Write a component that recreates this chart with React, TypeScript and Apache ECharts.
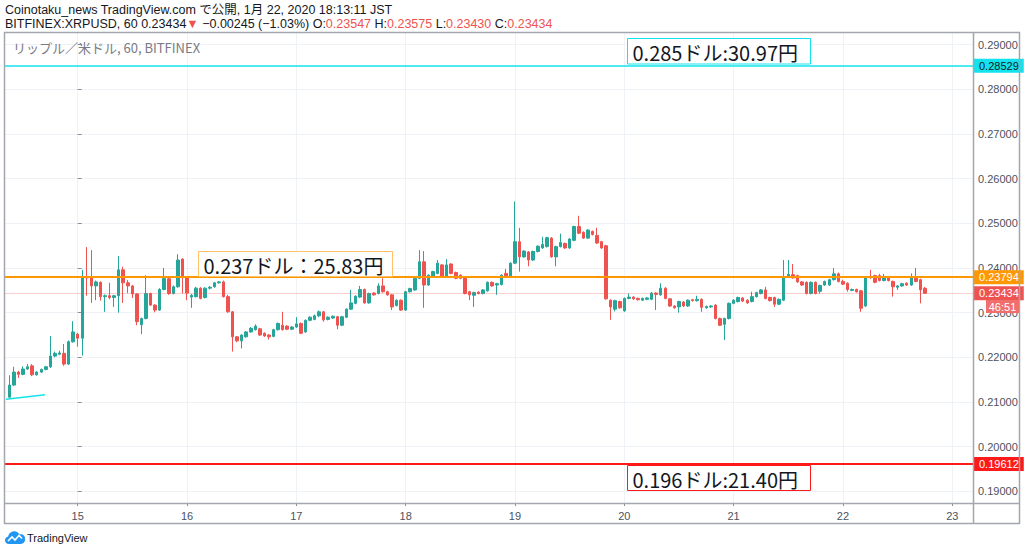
import React, { useEffect, useRef } from "react";
import * as echarts from "echarts";

// Hourly candles, hour offsets relative to Jan 15 00:00 JST (first candle: Jan 14 09:00)
const START_HOUR = -15;

const OPEN = [
  0.2111, 0.2138, 0.2167, 0.2162, 0.2174, 0.2181, 0.2161, 0.2167, 0.2173, 0.2179, 0.2203, 0.2207, 0.2209, 0.2185, 0.2235,
  0.2252, 0.2243, 0.2380, 0.2379, 0.2360, 0.2368, 0.2336, 0.2338, 0.2334, 0.2338, 0.2396, 0.2367, 0.2360, 0.2342, 0.2273,
  0.2287, 0.2343, 0.2317, 0.2306, 0.2352, 0.2376, 0.2343, 0.2358, 0.2420, 0.2378, 0.2335, 0.2336, 0.2355, 0.2334, 0.2355,
  0.2358, 0.2367, 0.2369, 0.2336, 0.2302, 0.2246, 0.2237, 0.2246, 0.2257, 0.2262, 0.2264, 0.2254, 0.2250, 0.2247, 0.2262,
  0.2272, 0.2270, 0.2263, 0.2268, 0.2276, 0.2257, 0.2283, 0.2285, 0.2293, 0.2302, 0.2285, 0.2288, 0.2291, 0.2272, 0.2290,
  0.2308, 0.2321, 0.2335, 0.2352, 0.2322, 0.2344, 0.2343, 0.2360, 0.2347, 0.2340, 0.2316, 0.2328, 0.2306, 0.2347, 0.2351,
  0.2377, 0.2414, 0.2362, 0.2380, 0.2388, 0.2407, 0.2382, 0.2409, 0.2390, 0.2384, 0.2380, 0.2347, 0.2339, 0.2346, 0.2343,
  0.2349, 0.2368, 0.2362, 0.2363, 0.2388, 0.2381, 0.2411, 0.2459, 0.2425, 0.2436, 0.2418, 0.2437, 0.2445, 0.2448, 0.2467,
  0.2425, 0.2448, 0.2455, 0.2445, 0.2462, 0.2493, 0.2480, 0.2467, 0.2482, 0.2473, 0.2459, 0.2450, 0.2328, 0.2308, 0.2325,
  0.2304, 0.2332, 0.2335, 0.2332, 0.2328, 0.2330, 0.2330, 0.2344, 0.2340, 0.2355, 0.2331, 0.2315, 0.2313, 0.2324, 0.2315,
  0.2329, 0.2327, 0.2330, 0.2311, 0.2313, 0.2317, 0.2287, 0.2274, 0.2287, 0.2321, 0.2325, 0.2333, 0.2328, 0.2325, 0.2336,
  0.2343, 0.2351, 0.2334, 0.2334, 0.2319, 0.2328, 0.2380, 0.2385, 0.2383, 0.2369, 0.2368, 0.2343, 0.2368, 0.2348, 0.2362,
  0.2362, 0.2374, 0.2387, 0.2370, 0.2366, 0.2350, 0.2352, 0.2349, 0.2315, 0.2381, 0.2383, 0.2383, 0.2372, 0.2378, 0.2370,
  0.2357, 0.2360, 0.2366, 0.2362, 0.2380, 0.2374, 0.23547,
];

const CLOSE = [
  0.2138, 0.2167, 0.2162, 0.2174, 0.2179, 0.2161, 0.2167, 0.2173, 0.2179, 0.2203, 0.2209, 0.2210, 0.2185, 0.2235, 0.2257,
  0.2243, 0.2380, 0.2378, 0.2360, 0.2369, 0.2336, 0.2338, 0.2334, 0.2338, 0.2396, 0.2367, 0.2360, 0.2342, 0.2280, 0.2287,
  0.2343, 0.2317, 0.2306, 0.2352, 0.2377, 0.2343, 0.2358, 0.2418, 0.2380, 0.2344, 0.2339, 0.2355, 0.2332, 0.2355, 0.2357,
  0.2367, 0.2369, 0.2336, 0.2302, 0.2246, 0.2237, 0.2250, 0.2257, 0.2265, 0.2270, 0.2250, 0.2248, 0.2246, 0.2262, 0.2276,
  0.2262, 0.2263, 0.2268, 0.2275, 0.2254, 0.2283, 0.2290, 0.2293, 0.2302, 0.2284, 0.2290, 0.2292, 0.2272, 0.2291, 0.2308,
  0.2322, 0.2337, 0.2352, 0.2322, 0.2343, 0.2340, 0.2360, 0.2347, 0.2340, 0.2313, 0.2328, 0.2306, 0.2347, 0.2354, 0.2377,
  0.2414, 0.2362, 0.2384, 0.2392, 0.2411, 0.2381, 0.2407, 0.2388, 0.2377, 0.2377, 0.2343, 0.2340, 0.2345, 0.2343, 0.2351,
  0.2368, 0.2360, 0.2365, 0.2384, 0.2381, 0.2411, 0.2459, 0.2425, 0.2438, 0.2418, 0.2437, 0.2449, 0.2453, 0.2468, 0.2425,
  0.2448, 0.2457, 0.2445, 0.2465, 0.2493, 0.2478, 0.2467, 0.2485, 0.2475, 0.2456, 0.2445, 0.2331, 0.2313, 0.2327, 0.2311,
  0.2332, 0.2335, 0.2331, 0.2329, 0.2332, 0.2333, 0.2344, 0.2341, 0.2355, 0.2332, 0.2315, 0.2311, 0.2325, 0.2315, 0.2328,
  0.2327, 0.2330, 0.2312, 0.2314, 0.2315, 0.2287, 0.2272, 0.2287, 0.2321, 0.2328, 0.2334, 0.2326, 0.2322, 0.2336, 0.2345,
  0.2351, 0.2332, 0.2327, 0.2319, 0.2330, 0.2380, 0.2386, 0.2378, 0.2369, 0.2362, 0.2343, 0.2368, 0.2343, 0.2361, 0.2370,
  0.2374, 0.2387, 0.2370, 0.2364, 0.2352, 0.2352, 0.2347, 0.2310, 0.2379, 0.2378, 0.2368, 0.2372, 0.2380, 0.2372, 0.2358,
  0.2360, 0.2365, 0.2362, 0.2380, 0.2370, 0.2351, 0.23434,
];

const HIGH = [
  0.2160, 0.2179, 0.2170, 0.2180, 0.2185, 0.2185, 0.2169, 0.2175, 0.2181, 0.2248, 0.2213, 0.2215, 0.2230, 0.2238, 0.2281,
  0.2255, 0.2396, 0.2447, 0.2440, 0.2372, 0.2370, 0.2341, 0.2367, 0.2340, 0.2427, 0.2403, 0.2373, 0.2362, 0.2344, 0.2289,
  0.2384, 0.2345, 0.2319, 0.2355, 0.2400, 0.2379, 0.2361, 0.2431, 0.2422, 0.2380, 0.2342, 0.2358, 0.2357, 0.2357, 0.2360,
  0.2369, 0.2371, 0.2372, 0.2340, 0.2304, 0.2248, 0.2252, 0.2259, 0.2268, 0.2274, 0.2266, 0.2256, 0.2252, 0.2264, 0.2278,
  0.2302, 0.2272, 0.2270, 0.2290, 0.2278, 0.2285, 0.2292, 0.2296, 0.2305, 0.2304, 0.2292, 0.2294, 0.2293, 0.2293, 0.2310,
  0.2351, 0.2339, 0.2360, 0.2354, 0.2345, 0.2346, 0.2366, 0.2377, 0.2349, 0.2342, 0.2330, 0.2330, 0.2349, 0.2356, 0.2379,
  0.2440, 0.2438, 0.2386, 0.2394, 0.2418, 0.2409, 0.2420, 0.2411, 0.2392, 0.2386, 0.2382, 0.2349, 0.2347, 0.2348, 0.2353,
  0.2370, 0.2370, 0.2367, 0.2386, 0.2398, 0.2413, 0.2549, 0.2490, 0.2440, 0.2438, 0.2439, 0.2451, 0.2470, 0.2470, 0.2469,
  0.2450, 0.2477, 0.2457, 0.2467, 0.2495, 0.2517, 0.2482, 0.2487, 0.2484, 0.2490, 0.2461, 0.2452, 0.2330, 0.2329, 0.2327,
  0.2334, 0.2343, 0.2337, 0.2334, 0.2334, 0.2335, 0.2346, 0.2346, 0.2366, 0.2357, 0.2333, 0.2317, 0.2327, 0.2326, 0.2330,
  0.2331, 0.2338, 0.2332, 0.2316, 0.2317, 0.2319, 0.2289, 0.2289, 0.2323, 0.2330, 0.2336, 0.2335, 0.2330, 0.2347, 0.2347,
  0.2353, 0.2358, 0.2336, 0.2336, 0.2332, 0.2418, 0.2418, 0.2409, 0.2385, 0.2371, 0.2370, 0.2370, 0.2370, 0.2363, 0.2372,
  0.2376, 0.2400, 0.2390, 0.2374, 0.2368, 0.2354, 0.2354, 0.2351, 0.2381, 0.2396, 0.2385, 0.2387, 0.2387, 0.2380, 0.2372,
  0.2362, 0.2367, 0.2368, 0.2388, 0.2400, 0.2376, 0.23575,
];

const LOW = [
  0.2109, 0.2136, 0.2154, 0.2160, 0.2172, 0.2158, 0.2159, 0.2165, 0.2171, 0.2176, 0.2200, 0.2205, 0.2181, 0.2183, 0.2233,
  0.2224, 0.2204, 0.2338, 0.2322, 0.2328, 0.2327, 0.2302, 0.2330, 0.2313, 0.2300, 0.2322, 0.2344, 0.2333, 0.2272, 0.2252,
  0.2285, 0.2315, 0.2301, 0.2304, 0.2350, 0.2340, 0.2341, 0.2356, 0.2343, 0.2328, 0.2311, 0.2334, 0.2330, 0.2332, 0.2352,
  0.2356, 0.2365, 0.2334, 0.2300, 0.2213, 0.2234, 0.2220, 0.2244, 0.2255, 0.2260, 0.2248, 0.2246, 0.2240, 0.2245, 0.2260,
  0.2260, 0.2261, 0.2261, 0.2266, 0.2252, 0.2255, 0.2281, 0.2283, 0.2290, 0.2280, 0.2283, 0.2286, 0.2263, 0.2270, 0.2288,
  0.2306, 0.2319, 0.2333, 0.2320, 0.2320, 0.2338, 0.2341, 0.2345, 0.2338, 0.2306, 0.2314, 0.2304, 0.2304, 0.2345, 0.2349,
  0.2375, 0.2311, 0.2360, 0.2378, 0.2386, 0.2379, 0.2380, 0.2386, 0.2375, 0.2375, 0.2341, 0.2328, 0.2313, 0.2341, 0.2341,
  0.2347, 0.2358, 0.2340, 0.2361, 0.2379, 0.2379, 0.2409, 0.2392, 0.2423, 0.2404, 0.2416, 0.2435, 0.2443, 0.2446, 0.2423,
  0.2404, 0.2446, 0.2443, 0.2443, 0.2460, 0.2476, 0.2465, 0.2465, 0.2473, 0.2454, 0.2443, 0.2329, 0.2284, 0.2303, 0.2309,
  0.2302, 0.2330, 0.2329, 0.2327, 0.2326, 0.2328, 0.2328, 0.2306, 0.2338, 0.2330, 0.2313, 0.2309, 0.2300, 0.2313, 0.2313,
  0.2325, 0.2325, 0.2302, 0.2309, 0.2311, 0.2285, 0.2270, 0.2239, 0.2285, 0.2319, 0.2323, 0.2324, 0.2320, 0.2323, 0.2334,
  0.2341, 0.2330, 0.2325, 0.2313, 0.2317, 0.2326, 0.2378, 0.2376, 0.2367, 0.2360, 0.2341, 0.2341, 0.2341, 0.2343, 0.2360,
  0.2360, 0.2372, 0.2368, 0.2362, 0.2347, 0.2348, 0.2345, 0.2302, 0.2313, 0.2376, 0.2366, 0.2370, 0.2370, 0.2370, 0.2336,
  0.2351, 0.2358, 0.2360, 0.2360, 0.2368, 0.2321, 0.23430,
];

const HOURS = OPEN.map((_, i) => START_HOUR + i);

const DAY_TICKS = [0, 24, 48, 72, 96, 120, 144, 168, 192];
const DAY_LABELS = ["15", "16", "17", "18", "19", "20", "21", "22", "23"];
const PRICE_TICKS = [0.19, 0.2, 0.21, 0.22, 0.23, 0.24, 0.25, 0.26, 0.27, 0.28, 0.29];

const RESISTANCE = 0.28529;
const MIDDLE = 0.23794;
const LAST = 0.23434;
const SUPPORT = 0.19612;
// short trend line at the start (hour, price)
const TREND = [
  [-15.74, 0.21061],
  [-7.18, 0.21164],
];

const UP = "#26a69a";
const DOWN = "#ef5350";
const CYAN = "#12e3ee";
const ORANGE = "#ff9800";
const RED = "#ff1a1a";
const FRAME = "#a3a6ae";
const SANS = "'Liberation Sans', 'Noto Sans CJK JP', sans-serif";
const JP = "'Noto Sans CJK JP', sans-serif";

echarts.graphic.registerShape(
  "tvlogo",
  echarts.graphic.extendPath(
    "M4 14 C1.6 14 0 12.3 0 10.2 C0 8.3 1.4 6.8 3.2 6.6 C3.6 3.5 6.2 1.2 9.3 1.2 C11.6 1.2 13.6 2.5 14.6 4.4 C15.1 4.3 15.5 4.2 16 4.2 C18.3 4.2 20 6 20 8.3 L20 9.8 C20 12.1 18.1 14 15.8 14 Z",
    {}
  )
);

export default function App() {
  const ref = useRef<HTMLDivElement>(null);

  useEffect(() => {
    if (!ref.current) return;
    const chart = echarts.init(ref.current, null, { renderer: "svg" });

    const candles = HOURS.map((h, i) => [h, OPEN[i], CLOSE[i], LOW[i], HIGH[i]]);

    const priceTag = (bg: string, fg: string) => ({
      show: true,
      position: "end",
      distance: 1,
      formatter: (p: any) => Number(p.value).toFixed(5),
      backgroundColor: bg,
      color: fg,
      fontSize: 11,
      fontFamily: SANS,
      padding: [2, 5, 1, 5],
    });

    const box = (x: number, y: number, w: number, h: number, stroke: string, text: string) => [
      {
        type: "rect",
        z: 100,
        shape: { x, y, width: w, height: h },
        style: { fill: "#ffffff", stroke, lineWidth: 1 },
      },
      {
        type: "text",
        z: 101,
        x: x + 5,
        y: y + h / 2 + 1,
        style: {
          text,
          fill: "#131722",
          fontSize: 20,
          fontFamily: JP,
          verticalAlign: "middle",
          align: "left",
        },
      },
    ];

    chart.setOption({
      animation: false,
      backgroundColor: "#ffffff",
      grid: { left: 5, right: 51, top: 33, bottom: 49, containLabel: false },
      xAxis: {
        type: "value",
        min: -15.96,
        max: 196.55,
        axisLine: { show: false },
        axisTick: { show: true, customValues: DAY_TICKS, length: 3, lineStyle: { color: "#8a8d96" } },
        axisLabel: {
          customValues: DAY_TICKS,
          formatter: (v: number) => {
            const k = DAY_TICKS.indexOf(Math.round(v));
            return k >= 0 ? DAY_LABELS[k] : "";
          },
          color: "#4c525e",
          fontSize: 11,
          fontFamily: SANS,
          margin: 7,
        },
        splitLine: { show: true, lineStyle: { color: "#eff2f7", width: 1 } },
      },
      yAxis: {
        type: "value",
        position: "right",
        min: 0.1874,
        max: 0.29262,
        scale: true,
        axisLine: { show: false },
        axisTick: { show: true, customValues: PRICE_TICKS, length: 4, lineStyle: { color: "#8a8d96" } },
        axisLabel: {
          customValues: PRICE_TICKS,
          formatter: (v: number) => v.toFixed(5),
          color: "#4c525e",
          fontSize: 11,
          fontFamily: SANS,
          margin: 5,
        },
        splitLine: { show: true, lineStyle: { color: "#eff2f7", width: 1 } },
      },
      series: [
        {
          type: "candlestick",
          data: candles,
          encode: { x: 0, y: [1, 2, 3, 4] },
          barWidth: 3,
          itemStyle: {
            color: UP,
            color0: DOWN,
            borderColor: UP,
            borderColor0: DOWN,
            borderWidth: 1,
          },
          markLine: {
            silent: true,
            precision: 5,
            symbol: ["none", "none"],
            animation: false,
            data: [
              { yAxis: LAST, lineStyle: { color: "rgba(239,83,80,0.28)", width: 1, type: "solid" }, label: priceTag(DOWN, "#ffffff") },
              { yAxis: RESISTANCE, lineStyle: { color: CYAN, width: 1.5, type: "solid" }, label: priceTag(CYAN, "#131722") },
              { yAxis: MIDDLE, lineStyle: { color: ORANGE, width: 2, type: "solid" }, label: priceTag(ORANGE, "#ffffff") },
              { yAxis: SUPPORT, lineStyle: { color: RED, width: 2, type: "solid" }, label: priceTag(RED, "#ffffff") },
              [
                { coord: TREND[0], lineStyle: { color: CYAN, width: 1.5, type: "solid" }, label: { show: false } },
                { coord: TREND[1] },
              ],
            ],
          },
        },
      ],
      graphic: [
        // frame
        {
          type: "rect",
          z: 90,
          shape: { x: 4.5, y: 32.5, width: 1015, height: 491 },
          style: { fill: "none", stroke: FRAME, lineWidth: 1.5 },
        },
        { type: "line", z: 90, shape: { x1: 973.5, y1: 32.5, x2: 973.5, y2: 523.5 }, style: { stroke: FRAME, lineWidth: 1.5 } },
        { type: "line", z: 90, shape: { x1: 4.5, y1: 503.5, x2: 1019.5, y2: 503.5 }, style: { stroke: FRAME, lineWidth: 1.5 } },
        // header
        {
          type: "text",
          z: 100,
          x: 5,
          y: 10,
          style: {
            text: "Coinotaku_news TradingView.com で公開, 1月 22, 2020 18:13:11 JST",
            fill: "#131722",
            fontSize: 12.5,
            fontFamily: SANS,
            verticalAlign: "middle",
          },
        },
        {
          type: "text",
          z: 100,
          x: 5,
          y: 23.5,
          style: {
            text:
              "{k|BITFINEX:XRPUSD, 60 0.23434}{r|▼}{k| −0.00245 (−1.03%) O:}{r|0.23547}{k| H:}{r|0.23575}{k| L:}{r|0.23430}{k| C:}{r|0.23434}",
            fontSize: 12.5,
            fontFamily: SANS,
            verticalAlign: "middle",
            rich: {
              k: { fill: "#131722", fontSize: 12.5, fontFamily: SANS, lineHeight: 13 },
              r: { fill: DOWN, fontSize: 12.5, fontFamily: SANS, lineHeight: 13 },
            },
          },
        },
        {
          type: "text",
          z: 100,
          x: 13,
          y: 47,
          style: {
            text: "リップル／米ドル, 60, BITFINEX",
            fill: "#787b86",
            fontSize: 13,
            fontFamily: JP,
            verticalAlign: "middle",
          },
        },
        // annotation boxes
        ...box(627.5, 38.5, 183, 25.5, CYAN, "0.285ドル:30.97円"),
        ...box(198.5, 251.5, 194, 25, "#ffc266", "0.237ドル：25.83円"),
        ...box(627.5, 465.5, 183, 25, RED, "0.196ドル:21.40円"),
        // countdown tag
        {
          type: "rect",
          z: 100,
          shape: { x: 986, y: 300, width: 33, height: 13 },
          style: { fill: "#f06e6c" },
        },
        {
          type: "text",
          z: 101,
          x: 1002.5,
          y: 306.5,
          style: { text: "46:51", fill: "#ffffff", fontSize: 11, fontFamily: SANS, align: "center", verticalAlign: "middle" },
        },
        // TradingView logo
        { type: "tvlogo", z: 100, x: 5, y: 530, style: { fill: "#2196f3" } },
        {
          type: "polyline",
          z: 101,
          shape: { points: [[8, 541], [12, 537], [15, 540], [19, 535.5], [22, 538.5]] },
          style: { stroke: "#ffffff", lineWidth: 1.6, fill: "none" },
        },
        {
          type: "text",
          z: 100,
          x: 27,
          y: 538,
          style: { text: "TradingView", fill: "#131722", fontSize: 11, fontFamily: SANS, verticalAlign: "middle" },
        },
      ],
    });

    return () => chart.dispose();
  }, []);

  return (
    <div
      ref={ref}
      style={{ position: "absolute", left: 0, top: 0, width: 1024, height: 552, background: "#ffffff" }}
    />
  );
}
